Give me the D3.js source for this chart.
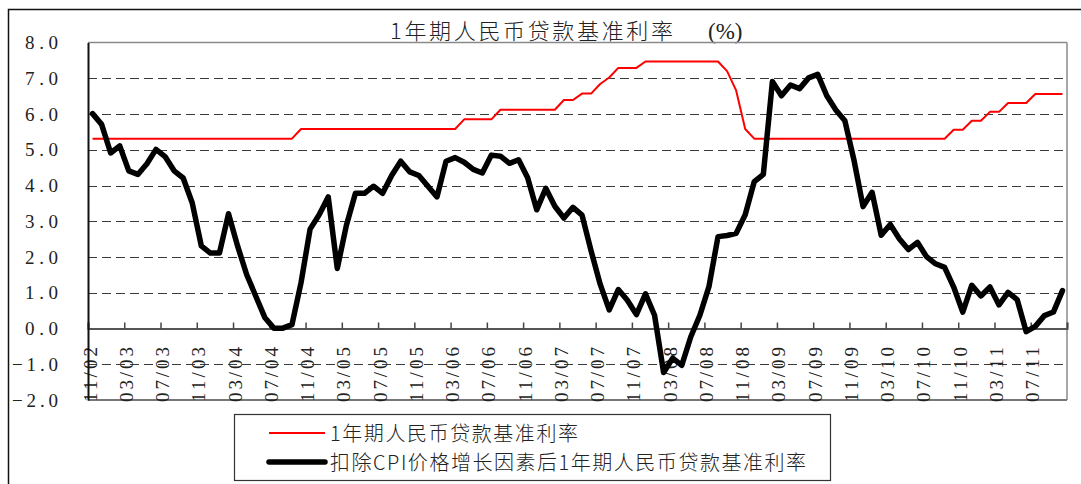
<!DOCTYPE html>
<html>
<head>
<meta charset="utf-8">
<script src="https://cdn.jsdelivr.net/npm/d3@7"></script>
<style>
  html, body { margin: 0; padding: 0; background: #fff; }
  svg { display: block; }
</style>
</head>
<body>
<svg id="chart" width="1081" height="484"></svg>
<script>
// ---------------- DATA ----------------
const chartTitle = "1年期人民币贷款基准利率";
const titleUnit = "(%)";
const seriesNames = ["1年期人民币贷款基准利率", "扣除CPI价格增长因素后1年期人民币贷款基准利率"];

// x-axis labels, one every 4 months starting 2002-11
const tickLabels = ["11/02","03/03","07/03","11/03","03/04","07/04","11/04","03/05","07/05","11/05",
  "03/06","07/06","11/06","03/07","07/07","11/07","03/08","07/08","11/08","03/09","07/09","11/09",
  "03/10","07/10","11/10","03/11","07/11"];

const yTicks = [8, 7, 6, 5, 4, 3, 2, 1, 0, -1, -2];

// monthly values, 2002-11 .. 2011-10
const nominalRate = [
  5.31,5.31,
  5.31,5.31,5.31,5.31,5.31,5.31,5.31,5.31,5.31,5.31,5.31,5.31,
  5.31,5.31,5.31,5.31,5.31,5.31,5.31,5.31,5.31,5.58,5.58,5.58,
  5.58,5.58,5.58,5.58,5.58,5.58,5.58,5.58,5.58,5.58,5.58,5.58,
  5.58,5.58,5.58,5.85,5.85,5.85,5.85,6.12,6.12,6.12,6.12,6.12,
  6.12,6.12,6.39,6.39,6.57,6.57,6.84,7.02,7.29,7.29,7.29,7.47,
  7.47,7.47,7.47,7.47,7.47,7.47,7.47,7.47,7.20,6.66,5.58,5.31,
  5.31,5.31,5.31,5.31,5.31,5.31,5.31,5.31,5.31,5.31,5.31,5.31,
  5.31,5.31,5.31,5.31,5.31,5.31,5.31,5.31,5.31,5.56,5.56,5.81,
  5.81,6.06,6.06,6.31,6.31,6.31,6.56,6.56,6.56,6.56
];
const realRate = [
  6.01,5.71,
  4.91,5.11,4.41,4.31,4.61,5.01,4.81,4.41,4.21,3.51,2.31,2.11,
  2.11,3.21,2.31,1.51,0.91,0.31,0.01,0.01,0.11,1.28,2.78,3.18,
  3.68,1.68,2.88,3.78,3.78,3.98,3.78,4.28,4.68,4.38,4.28,3.98,
  3.68,4.68,4.78,4.65,4.45,4.35,4.85,4.82,4.62,4.72,4.22,3.32,
  3.92,3.42,3.09,3.39,3.17,2.17,1.24,0.52,1.09,0.79,0.39,0.97,
  0.37,-1.23,-0.83,-1.03,-0.23,0.37,1.17,2.57,2.60,2.66,3.18,4.11,
  4.31,6.91,6.51,6.81,6.71,7.01,7.11,6.51,6.11,5.81,4.71,3.41,
  3.81,2.61,2.91,2.51,2.21,2.41,2.01,1.81,1.71,1.16,0.46,1.21,
  0.91,1.16,0.66,1.01,0.81,-0.09,0.06,0.36,0.46,1.06
];

// ---------------- DRAW ----------------
const svg = d3.select("#chart");
const plot = { left: 88, right: 1067, top: 42.5, bottom: 400 };
const nCat = nominalRate.length;
const monthsPerTick = 4;

const x = d3.scaleLinear().domain([0, nCat]).range([plot.left, plot.right]);
const y = d3.scaleLinear().domain([-2, 8]).range([plot.bottom, plot.top]);
const cx = i => x(i + 0.5);

// outer frame
svg.append("rect").attr("x", 8.5).attr("y", 9.5).attr("width", 1100).attr("height", 520)
  .attr("fill", "none").attr("stroke", "#111").attr("stroke-width", 1.5);

// title
svg.append("text").attr("x", 390).attr("y", 39)
  .attr("font-family", "'Noto Sans CJK SC'").attr("font-weight", 300).attr("font-size", 22).attr("fill", "#222")
  .attr("textLength", 283).attr("lengthAdjust", "spacing").text(chartTitle);
svg.append("text").attr("x", 708).attr("y", 39)
  .attr("font-family", "'Liberation Serif'").attr("font-size", 23).attr("fill", "#222")
  .text(titleUnit);

// gridlines
const gridVals = yTicks.filter(v => v !== 0 && v !== 8 && v !== -2);
svg.append("g").selectAll("line").data(gridVals).join("line")
  .attr("x1", plot.left).attr("x2", plot.right)
  .attr("y1", d => Math.round(y(d)) + 0.5).attr("y2", d => Math.round(y(d)) + 0.5)
  .attr("stroke", "#3a3a3a").attr("stroke-width", 1).attr("stroke-dasharray", "9,5");

// plot border: top, right (gray), bottom
svg.append("line").attr("x1", plot.left).attr("x2", plot.right).attr("y1", plot.top).attr("y2", plot.top)
  .attr("stroke", "#8a8a8a").attr("stroke-width", 1.5);
svg.append("line").attr("x1", plot.right).attr("x2", plot.right).attr("y1", plot.top).attr("y2", plot.bottom)
  .attr("stroke", "#8a8a8a").attr("stroke-width", 1.5);
svg.append("line").attr("x1", plot.left).attr("x2", plot.right).attr("y1", plot.bottom).attr("y2", plot.bottom)
  .attr("stroke", "#777").attr("stroke-width", 2);

// zero (category) axis with inner ticks
const tickIdx = d3.range(0, nCat + 1, monthsPerTick);
const xAxis = d3.axisTop(x).tickValues(tickIdx).tickSize(6).tickFormat("");
const gx = svg.append("g").attr("transform", `translate(0,${y(0)})`).call(xAxis);
gx.select(".domain").attr("stroke", "#555").attr("stroke-width", 2);
gx.selectAll(".tick line").attr("stroke", "#444").attr("stroke-width", 1.5);

// rotated x labels
svg.append("g").selectAll("text").data(tickLabels).join("text")
  .attr("transform", (d, i) => `translate(${x(i * monthsPerTick) + 8.5},402) rotate(-90)`)
  .attr("text-anchor", "start")
  .attr("font-family", "'Liberation Serif'").attr("font-size", 19).attr("fill", "#222")
  .attr("textLength", 55).attr("lengthAdjust", "spacing")
  .text(d => d);

// y axis (left)
const yFmt = d => (d < 0 ? "\u2212" : "") + Math.abs(d).toFixed(1);
const yAxis = d3.axisLeft(y).tickValues(yTicks).tickSize(0).tickPadding(30).tickFormat(yFmt);
const gy = svg.append("g").attr("transform", `translate(${plot.left},0)`).call(yAxis);
gy.select(".domain").attr("stroke", "#111").attr("stroke-width", 2);
gy.selectAll(".tick text")
  .attr("font-family", "'Liberation Serif'").attr("font-size", 19).attr("fill", "#222")
  .attr("x", 58 - plot.left)
  .attr("textLength", d => d < 0 ? 46 : 33).attr("lengthAdjust", "spacing");

// lines
const lineGen = d3.line().x((d, i) => cx(i)).y(d => y(d));
svg.append("path").datum(nominalRate).attr("d", lineGen)
  .attr("fill", "none").attr("stroke", "#ff0000").attr("stroke-width", 2).attr("stroke-linejoin", "round");
svg.append("path").datum(realRate).attr("d", lineGen)
  .attr("fill", "none").attr("stroke", "#000").attr("stroke-width", 5.5)
  .attr("stroke-linejoin", "round").attr("stroke-linecap", "round");

// legend
const lg = svg.append("g");
lg.append("rect").attr("x", 234.5).attr("y", 414.5).attr("width", 596).attr("height", 66)
  .attr("fill", "#fff").attr("stroke", "#333").attr("stroke-width", 1.2);
const legendRows = [
  { name: seriesNames[0], color: "#ff0000", w: 2, y: 433, len: 248 },
  { name: seriesNames[1], color: "#000", w: 5.5, y: 462, len: 476 }
];
legendRows.forEach(r => {
  lg.append("line").attr("x1", 269).attr("x2", 325).attr("y1", r.y).attr("y2", r.y)
    .attr("stroke", r.color).attr("stroke-width", r.w).attr("stroke-linecap", r.w > 3 ? "round" : "butt");
  lg.append("text").attr("x", 330).attr("y", r.y + 8)
    .attr("font-family", "'Noto Sans CJK SC'").attr("font-weight", 300).attr("font-size", 20).attr("fill", "#222")
    .attr("textLength", r.len).attr("lengthAdjust", "spacing").text(r.name);
});
</script>
</body>
</html>
